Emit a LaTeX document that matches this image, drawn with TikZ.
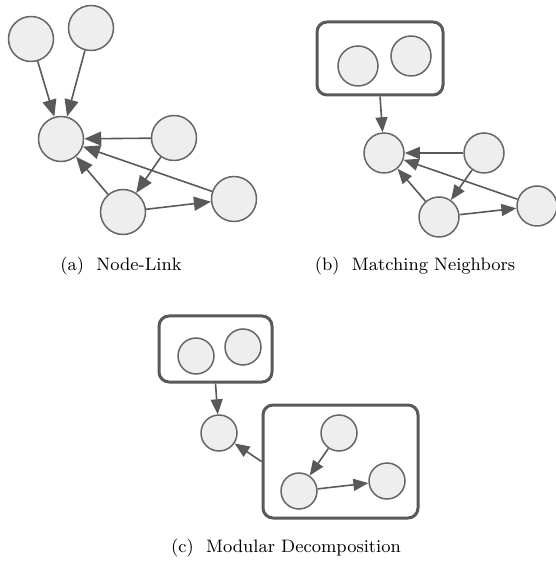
\documentclass[tikz,border=0pt]{standalone}
\usepackage{tikz}
\usetikzlibrary{arrows.meta,positioning}

\definecolor{nodefill}{HTML}{EEEEEE}
\definecolor{nodeline}{HTML}{666666}
\definecolor{edgeline}{HTML}{595959}

\begin{document}
\begin{tikzpicture}[
    x=0.5pt, y=-0.5pt,
    vert/.style={circle, draw=nodeline, fill=nodefill, line width=0.75pt, inner sep=0pt, minimum size=22.5pt},
    vertb/.style={vert, minimum size=20pt},
    vertc/.style={vert, minimum size=18pt},
    grp/.style={draw=edgeline, rounded corners=5pt, line width=1.5pt, inner sep=0pt},
    arr/.style={-{Triangle[length=8.5pt,width=7pt]}, edgeline, line width=0.8pt},
    arrs/.style={-{Triangle[length=7.5pt,width=6pt]}, edgeline, line width=0.8pt},
    caplabel/.style={font=\fontsize{9}{11}\selectfont}
]
\useasboundingbox (0,0) rectangle (555,565);

\node[vert] (a1) at (31,39) {};
\node[vert] (a2) at (91,28) {};
\node[vert] (a3) at (61,139) {};
\node[vert] (a4) at (174,138) {};
\node[vert] (a5) at (234,199) {};
\node[vert] (a6) at (123,212) {};
\draw[arr] (a1) -- (a3);
\draw[arr] (a2) -- (a3);
\draw[arr] (a4) -- (a3);
\draw[arr] (a5) -- (a3);
\draw[arr] (a6) -- (a3);
\draw[arr] (a4) -- (a6);
\draw[arr] (a6) -- (a5);
\node[caplabel] (capa) at (121,266) {(a)~~Node-Link};

\node[grp, minimum width=63pt, minimum height=36.5pt] (bgrp) at (380,58.5) {};
\node[vertb] (b1) at (358,66) {};
\node[vertb] (b2) at (411,56) {};
\node[vertb] (b3) at (384,153) {};
\node[vertb] (b4) at (484,153) {};
\node[vertb] (b5) at (537,206) {};
\node[vertb] (b6) at (439,217) {};
\draw[arrs] (bgrp.south) -- (b3);
\draw[arrs] (b4) -- (b3);
\draw[arrs] (b5) -- (b3);
\draw[arrs] (b6) -- (b3);
\draw[arrs] (b4) -- (b6);
\draw[arrs] (b6) -- (b5);
\node[caplabel] (capb) at (415,266) {(b)~~Matching Neighbors};

\node[grp, minimum width=56.5pt, minimum height=33pt] (cgrp1) at (215.5,349) {};
\node[vertc] (c1) at (196,356) {};
\node[vertc] (c2) at (243,347) {};
\node[vertc] (c3) at (219,433) {};
\node[grp, minimum width=77.5pt, minimum height=56.5pt] (cgrp2) at (340.5,461.5) {};
\node[vertc] (c4) at (339,433) {};
\node[vertc] (c5) at (299,491) {};
\node[vertc] (c6) at (387,481) {};
\draw[arrs] (cgrp1.south) -- (c3);
\draw[arrs] (cgrp2.west) -- (c3);
\draw[arrs] (c4) -- (c5);
\draw[arrs] (c5) -- (c6);
\node[caplabel] (capc) at (286,548) {(c)~~Modular Decomposition};
\end{tikzpicture}
\end{document}
